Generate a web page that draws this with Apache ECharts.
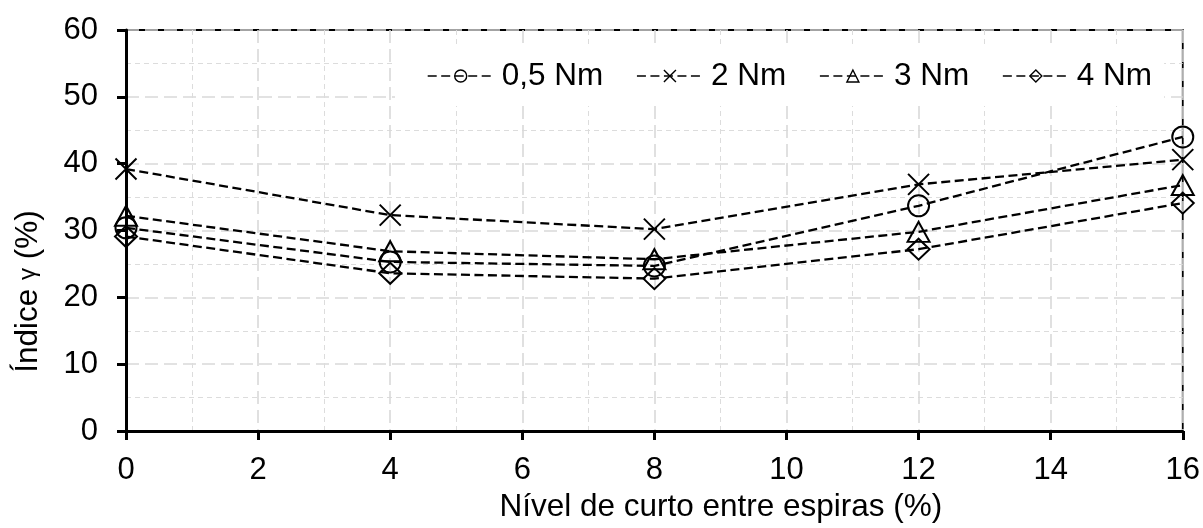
<!DOCTYPE html>
<html>
<head>
<meta charset="utf-8">
<style>
  html, body { margin: 0; padding: 0; background: #fff; }
  #chart { width: 1203px; height: 528px; }
</style>
<script src="https://cdn.jsdelivr.net/npm/echarts@6/dist/echarts.min.js"></script>
</head>
<body>
<div id="chart"></div>
<script>
// Short-circuit level between turns (%)
const shortLevels = [0, 4, 8, 12, 16];

// Index γ (%) for each load torque
const seriesNames = ['0,5 Nm', '2 Nm', '3 Nm', '4 Nm'];
const gamma05Nm = [30.4, 25.3, 24.7, 33.7, 44.0];
const gamma2Nm  = [39.2, 32.3, 30.2, 36.9, 40.6];
const gamma3Nm  = [32.2, 26.9, 25.7, 29.8, 36.8];
const gamma4Nm  = [29.1, 23.6, 22.8, 27.2, 34.1];

const xTitle = 'Nível de curto entre espiras (%)';
const yTitle = 'Índice {g|γ} (%)';

const FONT = '"Liberation Sans", Arial, sans-serif';
const crossPath = 'path://M0,0L10,10M10,0L0,10';

const markers = [
  { symbol: 'circle', size: [21, 21] },
  { symbol: crossPath, size: [21, 21] },
  { symbol: 'triangle', size: [22, 20] },
  { symbol: 'diamond', size: [22, 21] }
];
const values = [gamma05Nm, gamma2Nm, gamma3Nm, gamma4Nm];

const series = values.map((vals, i) => ({
  name: seriesNames[i],
  type: 'line',
  data: shortLevels.map((x, j) => [x, vals[j]]),
  symbol: markers[i].symbol,
  symbolSize: markers[i].size,
  showAllSymbol: true,
  lineStyle: { color: '#000', width: 2.3, type: [9, 4.5] },
  itemStyle: { color: 'rgba(0,0,0,0)', borderColor: '#000', borderWidth: 2 },
  emphasis: { disabled: true },
  z: 3
}));

const chart = echarts.init(document.getElementById('chart'), null, { renderer: 'canvas' });
chart.setOption({
  animation: false,
  backgroundColor: '#fff',
  textStyle: { fontFamily: FONT, color: '#000' },
  grid: {
    left: 126, right: 20, top: 30, bottom: 95,
    show: true, borderColor: '#000', borderWidth: 1.8, backgroundColor: 'transparent'
  },
  legend: {
    data: seriesNames,
    left: 395, top: 46,
    padding: [14, 12, 14, 32],
    backgroundColor: '#fff',
    itemWidth: 66, itemHeight: 15, itemGap: 33,
    textStyle: { fontFamily: FONT, fontSize: 31.5, color: '#000', padding: [0, 0, 0, 3] },
    lineStyle: { width: 1.4 },
    itemStyle: { borderWidth: 1.4 }
  },
  xAxis: {
    type: 'value', min: 0, max: 16, interval: 2,
    name: xTitle, nameLocation: 'middle', nameGap: 60,
    nameTextStyle: { fontFamily: FONT, fontSize: 31.5, color: '#000', padding: [0, 0, 0, 133] },
    axisLine: { show: true, onZero: false, lineStyle: { color: '#000', width: 3 } },
    axisTick: { show: true, inside: false, length: 9, lineStyle: { color: '#000', width: 3 } },
    axisLabel: { fontFamily: FONT, fontSize: 31, color: '#000', margin: 24 },
    splitLine: { show: true, lineStyle: { color: '#d9d9d9', width: 1.6, type: [13, 6] } },
    minorTick: { show: false, splitNumber: 2 },
    minorSplitLine: { show: true, lineStyle: { color: '#dcdcdc', width: 1, type: [5, 4] } }
  },
  yAxis: {
    type: 'value', min: 0, max: 60, interval: 10,
    name: yTitle, nameLocation: 'middle', nameGap: 82, nameRotate: 90,
    nameTextStyle: {
      fontFamily: FONT, fontSize: 31.5, color: '#000', padding: [0, 122, 0, 0],
      rich: { g: { fontFamily: FONT, fontSize: 24, color: '#000' } }
    },
    axisLine: { show: true, onZero: false, lineStyle: { color: '#000', width: 3 } },
    axisTick: { show: true, inside: false, length: 9, lineStyle: { color: '#000', width: 3 } },
    axisLabel: { fontFamily: FONT, fontSize: 31, color: '#000', margin: 28 },
    splitLine: { show: true, lineStyle: { color: '#d9d9d9', width: 1.6, type: [13, 6] } },
    minorTick: { show: false, splitNumber: 2 },
    minorSplitLine: { show: true, lineStyle: { color: '#dcdcdc', width: 1, type: [5, 4] } }
  },
  series: series
});
</script>
</body>
</html>
